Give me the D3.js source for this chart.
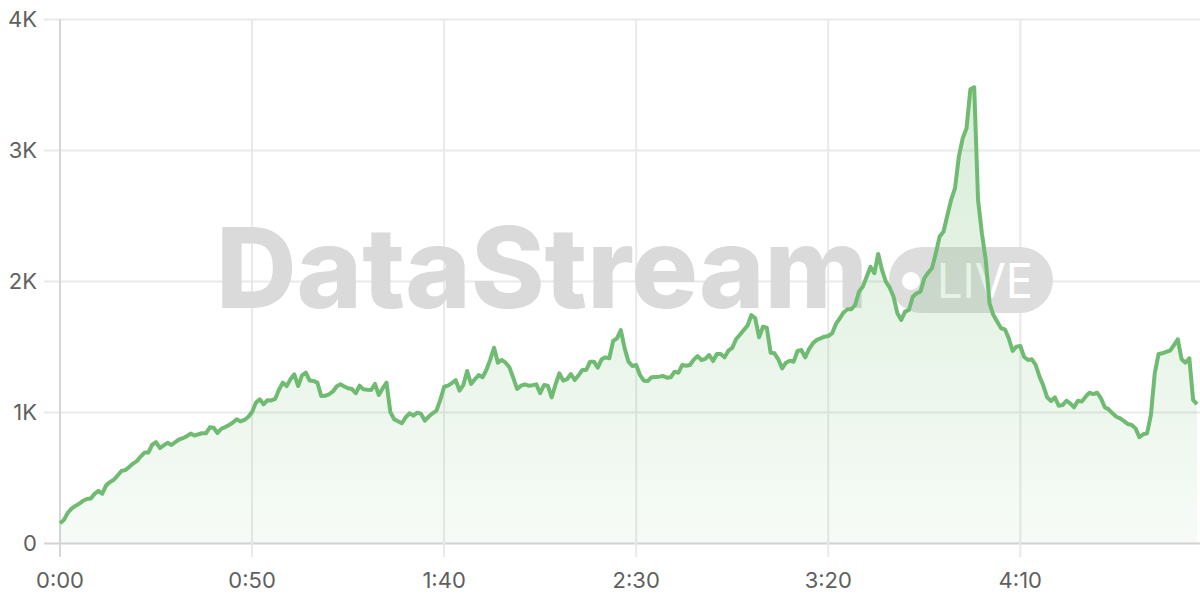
<!DOCTYPE html>
<html><head><meta charset="utf-8">
<script src="https://cdn.jsdelivr.net/npm/d3@7"></script>
<style>html,body{margin:0;padding:0;background:#fff;overflow:hidden}svg{display:block}</style>
</head><body><svg id="c" width="1200" height="600"></svg>
<script>
// minutes since start (one value per minute)
const values = [150,175,230,262,283,300,322,336,340,375,398,376,440,465,483,515,550,556,580,606,
625,660,690,690,750,770,725,745,765,748,770,790,800,815,835,820,830,838,837,883,
880,840,872,885,900,920,944,928,940,962,1000,1070,1097,1059,1090,1088,1100,1170,1224,1198,
1250,1288,1198,1280,1300,1240,1237,1225,1122,1124,1135,1155,1195,1211,1195,1181,1175,1143,1201,1173,
1170,1168,1214,1130,1180,1224,1000,945,930,914,960,990,972,995,985,934,965,990,1010,1092,
1193,1201,1220,1244,1163,1206,1313,1214,1250,1282,1265,1321,1400,1491,1376,1397,1376,1341,1260,1176,
1201,1210,1201,1205,1211,1143,1206,1201,1112,1210,1295,1239,1250,1290,1244,1280,1321,1321,1384,1384,
1338,1402,1417,1410,1542,1562,1626,1486,1384,1351,1359,1282,1239,1237,1265,1268,1270,1275,1262,1265,
1308,1300,1359,1353,1359,1400,1427,1397,1405,1435,1389,1443,1443,1417,1468,1490,1555,1590,1625,1660,
1740,1715,1570,1651,1644,1453,1448,1402,1333,1376,1392,1384,1466,1473,1417,1480,1524,1550,1562,1575,
1580,1600,1672,1715,1760,1784,1784,1817,1918,1957,2033,2109,2059,2206,2084,1995,1949,1880,1753,1702,
1766,1779,1880,1906,1918,2020,2063,2097,2211,2340,2376,2500,2620,2708,2949,3089,3166,3463,3479,2618,
2364,2160,1830,1740,1689,1639,1631,1562,1466,1499,1504,1420,1397,1402,1359,1270,1200,1112,1084,1112,
1048,1053,1086,1066,1036,1086,1079,1117,1147,1137,1147,1104,1036,1020,990,964,951,930,908,901,
875,807,830,837,977,1295,1443,1448,1460,1468,1510,1555,1402,1376,1410,1092,1061];
const minutes = values.map((v,i)=>i);
const xTicks = [0,50,100,150,200,250];
const yTicks = [0,1000,2000,3000,4000];
const yTickLabels = ["0","1K","2K","3K","4K"];

const svg = d3.select("#c");
const x = d3.scaleLinear().domain([0,296]).range([60,1197]);
const y = d3.scaleLinear().domain([0,4000]).range([543,19]);
const lineColor = "#70bb72";
const font = "Inter, 'Liberation Sans', Arial, sans-serif";

// horizontal gridlines
svg.append("g").selectAll("line").data(yTicks).join("line")
  .attr("x1",44).attr("x2",1200)
  .attr("y1",d=>y(d)+0.5).attr("y2",d=>y(d)+0.5)
  .attr("stroke",d=>d===0?"#d2d2d2":"#e9e9e9").attr("stroke-width",2);
// vertical gridlines
svg.append("g").selectAll("line").data(xTicks).join("line")
  .attr("x1",d=>x(d)).attr("x2",d=>x(d))
  .attr("y1",19).attr("y2",557)
  .attr("stroke",d=>d===0?"#d6d6d6":"#e9e9e9").attr("stroke-width",2);

// y labels
svg.append("g").selectAll("text").data(yTicks).join("text")
  .attr("x",37).attr("y",d=>y(d)+8)
  .attr("text-anchor","end").attr("font-family",font).attr("font-size",22)
  .attr("fill","#5f5f5f").text((d,i)=>yTickLabels[i]);
// x labels
const fmt = m => Math.floor(m/60)+":"+String(m%60).padStart(2,"0");
svg.append("g").selectAll("text").data(xTicks).join("text")
  .attr("x",d=>x(d)).attr("y",588)
  .attr("text-anchor","middle").attr("font-family",font).attr("font-size",22)
  .attr("fill","#5f5f5f").text(fmt);

// watermark
const wm = svg.append("g");
wm.append("text").attr("x",216).attr("y",308)
  .attr("font-family","Inter, 'Open Sans', sans-serif").attr("font-weight",800)
  .attr("font-size",112).attr("fill","#dadada")
  .attr("textLength",652).attr("lengthAdjust","spacingAndGlyphs").text("DataStream");
wm.append("rect").attr("x",889).attr("y",247).attr("width",164).attr("height",66)
  .attr("rx",33).attr("fill","#dddddd");
wm.append("circle").attr("cx",911).attr("cy",281).attr("r",9).attr("fill","#fff");
wm.append("text").attr("x",937).attr("y",298)
  .attr("font-family","Inter, 'Open Sans', sans-serif").attr("font-weight",400)
  .attr("font-size",48).attr("fill","#fff")
  .attr("textLength",96).attr("lengthAdjust","spacingAndGlyphs").text("LIVE");

// gradient
const defs = svg.append("defs");
const g = defs.append("linearGradient").attr("id","fillg")
  .attr("gradientUnits","userSpaceOnUse").attr("x1",0).attr("x2",0).attr("y1",19).attr("y2",543);
g.append("stop").attr("offset","0%").attr("stop-color",lineColor).attr("stop-opacity",0.3);
g.append("stop").attr("offset","100%").attr("stop-color",lineColor).attr("stop-opacity",0.06);

const area = d3.area().x((d,i)=>x(minutes[i])).y0(y(0)).y1(d=>y(d));
const line = d3.line().x((d,i)=>x(minutes[i])).y(d=>y(d));
svg.append("path").datum(values).attr("d",area).attr("fill","url(#fillg)");
svg.append("path").datum(values).attr("d",line).attr("fill","none")
  .attr("stroke",lineColor).attr("stroke-width",4).attr("stroke-linejoin","round");
</script></body></html>
